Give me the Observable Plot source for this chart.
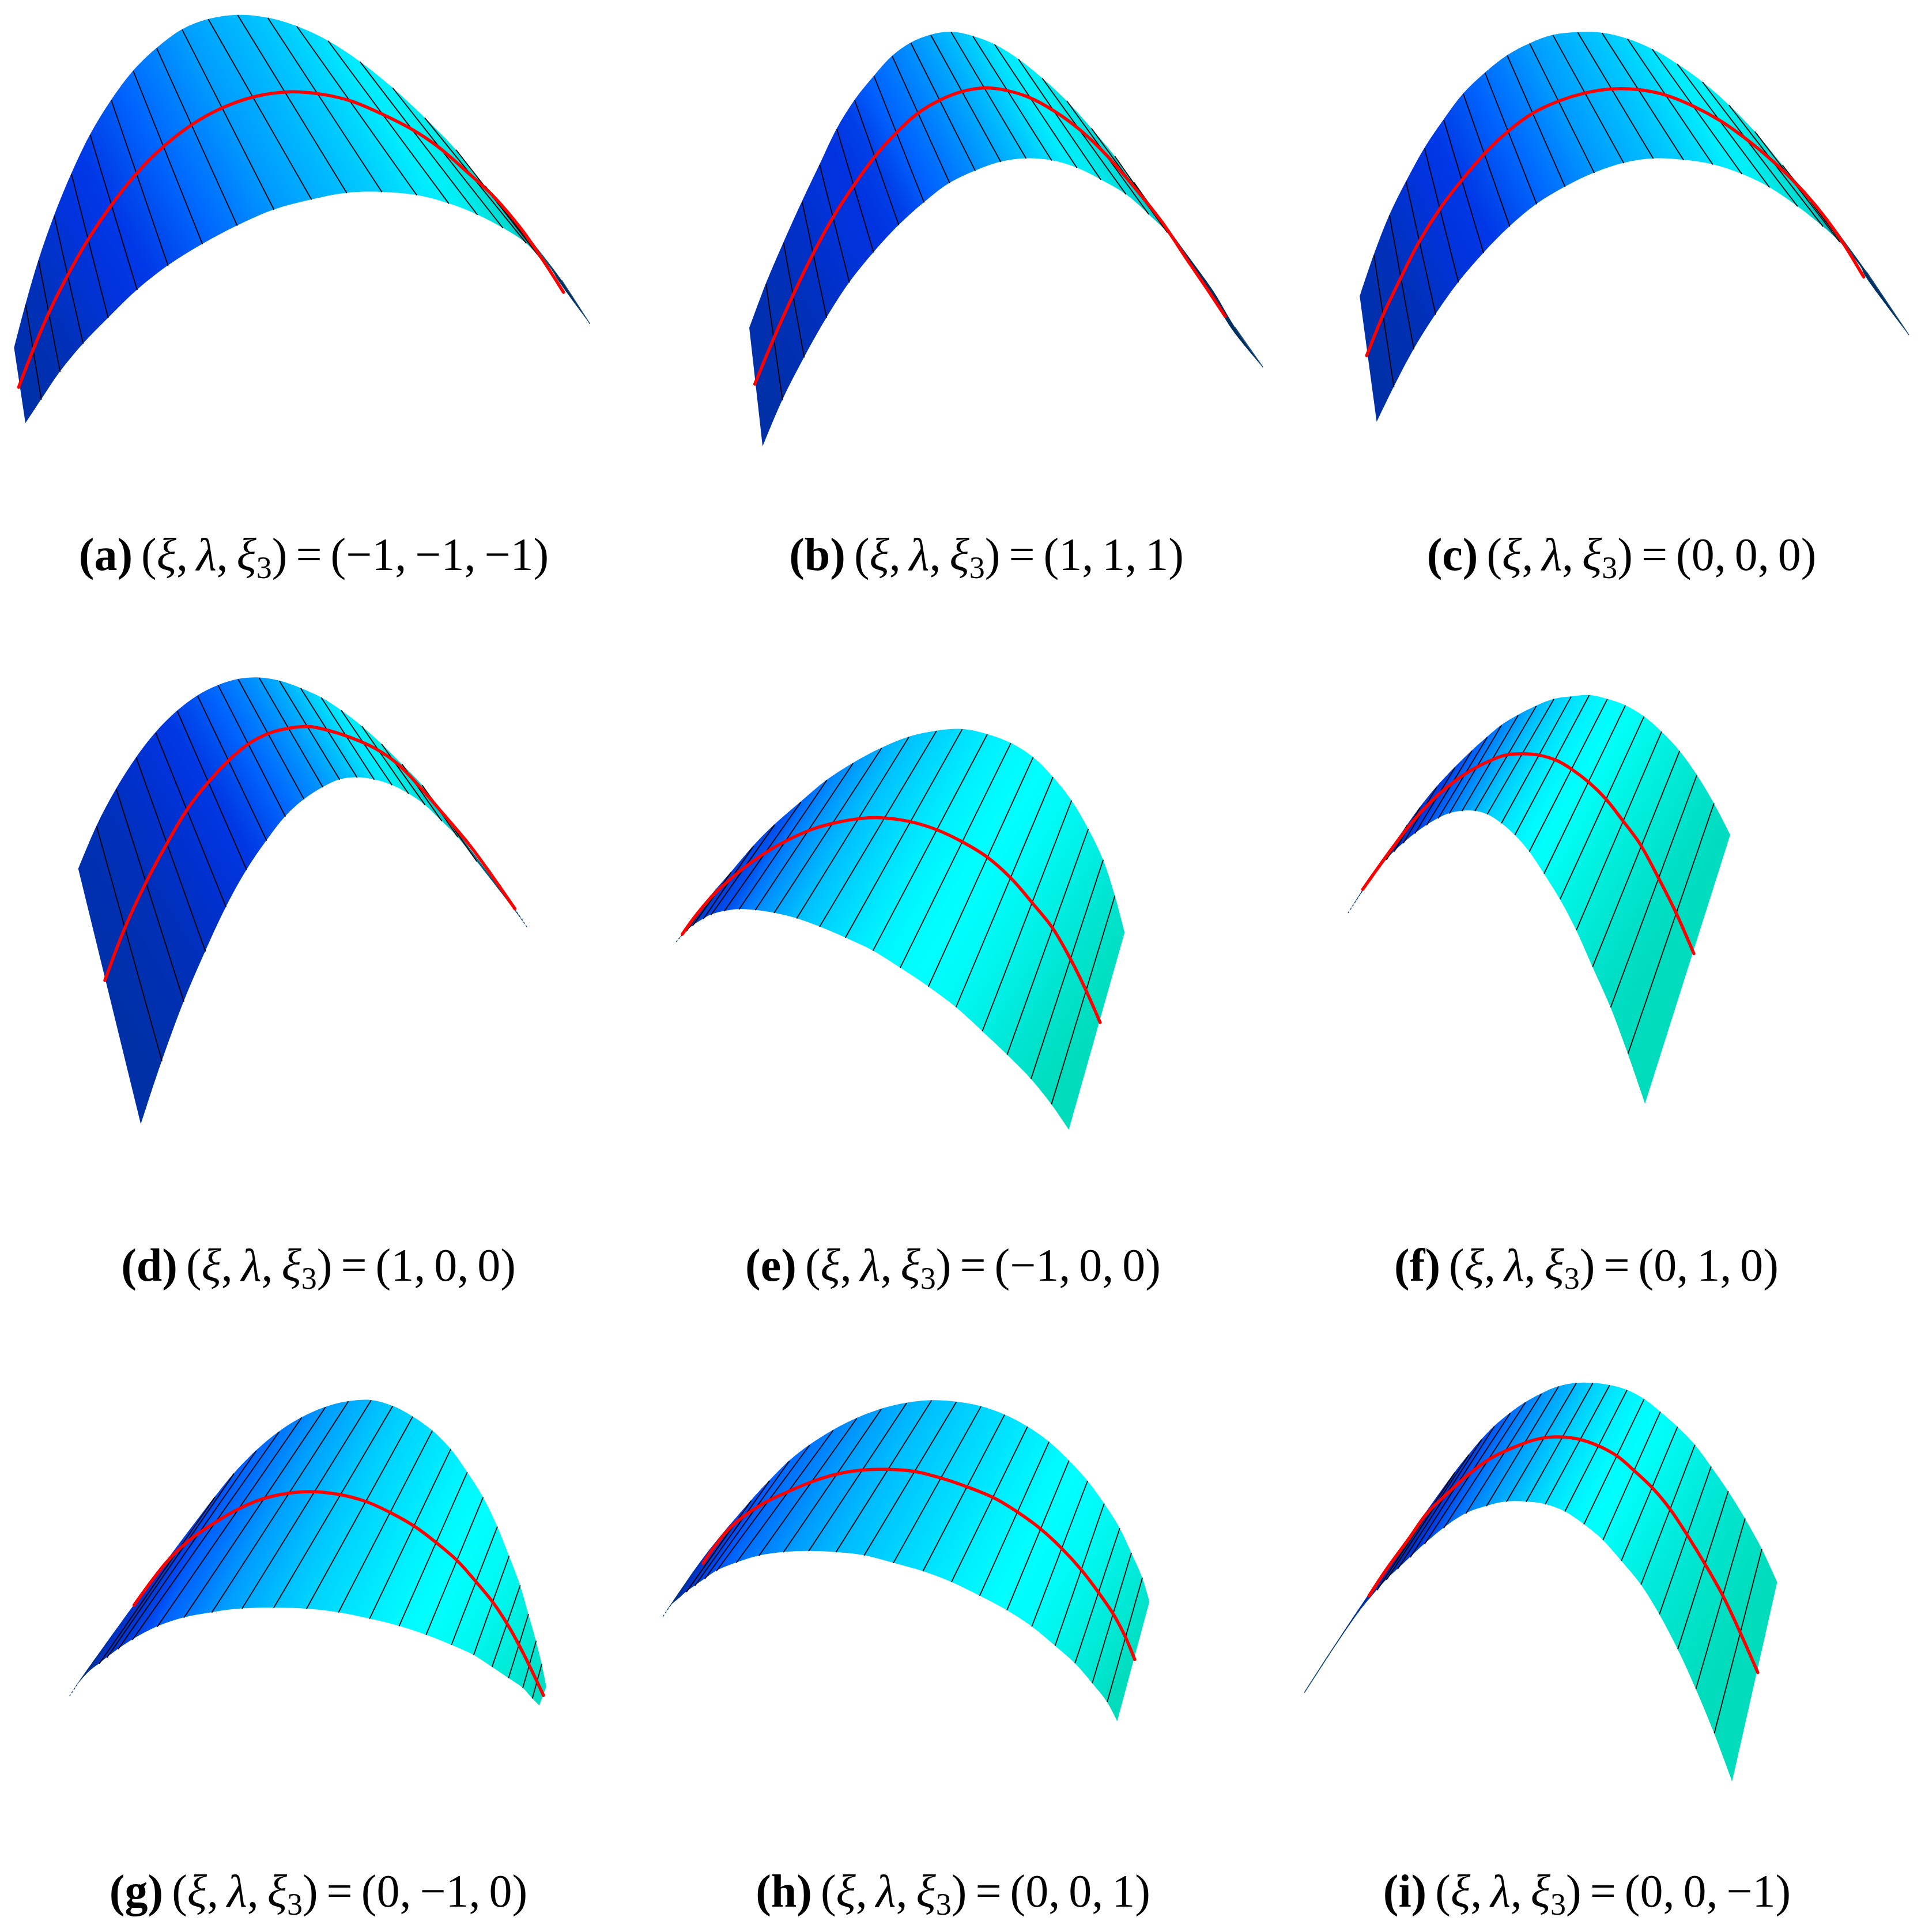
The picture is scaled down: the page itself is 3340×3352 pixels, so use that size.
<!DOCTYPE html>
<html>
<head>
<meta charset="utf-8">
<script src="https://cdn.jsdelivr.net/npm/d3@7"></script>
<script src="https://cdn.jsdelivr.net/npm/@observablehq/plot@0.6"></script>
<style>
html,body{margin:0;padding:0;background:#fff}
svg{display:block}
</style>
</head>
<body>
<div id="chart"></div>
<script>
// Values. Each panel's samples are (top edge, bottom edge) pairs
// along the ruling lines, in the panel's reading grid of 1562 x 1568 units.
const WIDTH = 3340, HEIGHT = 3352, GRID_W = 1562, GRID_H = 1568;

const aWindow = [0, 0, 1060, 760];
const aTop = [[36,1245],[65,1090],[98,932],[138,772],[182,622],[230,482],[284,358],[340,253],[400,172],[465,105],[532,68],[607,53],[684,63],[758,93],[838,145],[920,220],[1003,313],[1085,420],[1165,535],[1240,665],[1340,830],[1436,1003],[1507,1157]];
const aBottom = [[65,1515],[105,1430],[153,1330],[212,1230],[276,1138],[350,1037],[429,950],[517,873],[606,807],[700,750],[796,714],[886,690],[976,687],[1065,698],[1147,728],[1220,768],[1285,815],[1345,870],[1385,930],[1395,940],[1410,965],[1429,1008],[1507,1157]];
const aRed = [[47,1385],[80,1265],[122,1125],[172,985],[225,855],[283,735],[347,622],[416,525],[490,445],[568,385],[650,345],[735,328],[815,335],[895,360],[980,410],[1050,460],[1120,525],[1190,610],[1260,700],[1330,815],[1385,925],[1440,1045]];
const aColors = ["#0030a8","#0030b0","#0030b8","#0033cc","#0033dd","#0038e8","#0050f0","#0068ff","#0080ff","#009aff","#00acff","#00bcff","#00ccff","#00dcff","#00ecff","#00f0f8","#00e8e8","#00e0d8","#00d8d0","#00b0b8","#008090","#003060","#003060"];

const bWindow = [1280, 0, 950, 800];
const bTop = [[33,1115],[80,965],[130,825],[183,685],[233,560],[282,438],[333,340],[388,258],[440,190],[493,145],[550,118],[608,108],[670,122],[732,150],[800,200],[868,265],[938,342],[1008,435],[1075,530],[1130,620],[1298,892],[1358,992],[1418,1112],[1497,1247]];
const bBottom = [[71,1518],[127,1360],[189,1215],[253,1080],[318,960],[387,858],[459,765],[531,688],[604,622],[677,580],[750,550],[822,538],[895,545],[967,570],[1035,610],[1107,660],[1172,728],[1225,790],[1262,850],[1285,885],[1290,895],[1350,1001],[1410,1120],[1497,1247]];
const bRed = [[48,1305],[100,1155],[158,1000],[215,860],[270,740],[330,630],[390,532],[450,452],[512,385],[575,340],[640,310],[705,298],[760,305],[830,330],[900,375],[975,440],[1050,525],[1130,635],[1210,755],[1280,880],[1340,985],[1390,1075]];
const bColors = ["#0030a8","#0030b0","#0030b8","#0030c8","#0033d8","#0033e0","#0040e8","#0060ff","#0078ff","#0090ff","#00a8ff","#00c0ff","#00d8ff","#00ecff","#00ecf4","#00e4e4","#00dcdc","#00d4d0","#00c8c8","#00a8b0","#003060","#003060","#003060","#003060"];

const cWindow = [2340, 0, 1000, 760];
const cTop = [[30,1060],[68,912],[110,770],[155,650],[205,530],[257,428],[310,335],[369,260],[429,198],[490,155],[553,125],[620,115],[686,117],[755,138],[822,175],[890,228],[958,292],[1030,375],[1100,470],[1175,590],[1290,770],[1403,972],[1517,1197]];
const cBottom = [[76,1510],[122,1385],[176,1250],[235,1125],[297,1010],[365,905],[436,810],[509,730],[586,668],[665,618],[745,583],[825,567],[907,572],[986,588],[1065,622],[1140,670],[1216,738],[1285,810],[1330,865],[1370,925],[1390,960],[1397,982],[1517,1197]];
const cRed = [[48,1272],[92,1128],[140,995],[190,865],[247,745],[305,645],[368,548],[430,470],[497,405],[570,360],[640,332],[715,317],[785,320],[860,340],[935,380],[1005,430],[1070,490],[1135,560],[1200,640],[1265,735],[1325,840],[1395,990]];
const cColors = ["#0030a8","#0030b0","#0030b8","#0033cc","#0033dd","#0038e8","#0050f0","#0068ff","#0080ff","#009aff","#00acff","#00bcff","#00ccff","#00dcff","#00ecff","#00f0f8","#00e8e8","#00e0d8","#00d8d0","#00b0b8","#006a80","#003060","#003060"];

const dWindow = [100, 1150, 860, 830];
const dTop = [[65,675],[122,535],[184,413],[247,310],[308,228],[376,157],[440,107],[505,73],[568,53],[634,48],[698,58],[765,82],[830,113],[893,155],[958,207],[1020,265],[1085,332],[1148,400],[1210,485],[1440,806],[1478,865]];
const dBottom = [[262,1512],[328,1305],[397,1110],[465,945],[530,800],[595,678],[658,582],[717,503],[776,447],[835,407],[888,382],[943,375],[997,382],[1053,400],[1105,428],[1157,465],[1210,518],[1260,570],[1320,650],[1438,808],[1478,865]];
const dRed = [[148,1040],[210,870],[277,720],[343,592],[407,480],[470,395],[537,320],[600,265],[665,230],[730,213],[790,208],[850,220],[925,245],[1000,280],[1070,330],[1140,405],[1215,495],[1300,600],[1370,700],[1440,805]];
const dColors = ["#0030a8","#0030b0","#0030b8","#0030c8","#0033d8","#0038e4","#0050f0","#0068ff","#0080ff","#0098ff","#00b0ff","#00c8ff","#00e0ff","#00ecff","#00ece8","#00e4e0","#00d8d4","#00c8c8","#0090a0","#003060","#003060"];

const eWindow = [1150, 1240, 840, 750];
const eTop = [[43,822],[60,800],[155,655],[220,570],[292,475],[360,398],[445,315],[528,237],[613,175],[705,120],[793,80],[882,58],[965,52],[1046,70],[1122,102],[1194,153],[1258,225],[1318,310],[1372,413],[1420,525],[1458,655],[1490,790]];
const eBottom = [[43,822],[62,802],[75,785],[95,765],[130,740],[155,725],[197,712],[245,705],[297,708],[358,718],[431,738],[505,768],[588,808],[677,855],[765,917],[856,985],[945,1060],[1030,1147],[1110,1232],[1187,1320],[1253,1412],[1310,1505]];
const eRed = [[62,795],[105,728],[160,655],[235,578],[320,507],[400,455],[480,415],[560,390],[640,375],[710,373],[790,385],[880,415],[965,460],[1045,515],[1125,595],[1190,680],[1255,770],[1312,880],[1365,1000],[1410,1115]];
const eColors = ["#003060","#003070","#0038c0","#0040d0","#0040e0","#0048e8","#0055f0","#0075ff","#0090ff","#00a8ff","#00c0ff","#00d0ff","#00e0ff","#00f0ff","#00faff","#00ffff","#00fbf8","#00f4ec","#00ece0","#00e4d0","#00e0c4","#00dcbc"];

const fWindow = [2320, 1190, 700, 750];
const fTop = [[42,822],[100,738],[270,505],[320,440],[385,365],[455,295],[520,235],[580,185],[635,142],[700,105],[770,72],[838,47],[905,38],[975,33],[1045,47],[1115,70],[1187,110],[1255,165],[1325,235],[1392,322],[1458,425],[1522,540]];
const fBottom = [[42,822],[102,740],[190,630],[220,600],[255,570],[300,535],[345,505],[390,480],[433,462],[482,453],[532,453],[580,465],[635,497],[687,540],[743,600],[800,680],[862,773],[925,885],[988,1018],[1058,1165],[1125,1333],[1192,1515]];
const fRed = [[98,737],[150,668],[210,590],[275,510],[340,440],[420,370],[500,315],[580,275],[650,250],[720,245],[780,250],[850,270],[905,300],[975,350],[1040,410],[1105,488],[1170,570],[1240,690],[1310,820],[1380,970]];
const fColors = ["#003060","#003070","#0030b0","#0030c0","#0038d8","#0040e8","#0058f0","#0068ff","#0080ff","#0098ff","#00b4ff","#00ccff","#00e0ff","#00f0ff","#00fcff","#00fff8","#00f8ec","#00f0e0","#00e8d4","#00e0c8","#00dcc0","#00dcbc"];

const gWindow = [100, 2410, 860, 570];
const gTop = [[37,1463],[65,1400],[240,1030],[495,514],[555,402],[625,293],[697,203],[768,135],[843,85],[915,58],[987,52],[1055,80],[1118,130],[1180,197],[1238,285],[1290,395],[1340,515],[1385,655],[1422,795],[1457,935],[1483,1072],[1507,1200],[1525,1310],[1540,1420]];
const gBottom = [[37,1463],[66,1402],[100,1345],[130,1310],[155,1280],[190,1240],[235,1195],[313,1133],[397,1090],[485,1065],[580,1047],[680,1043],[783,1048],[884,1065],[982,1095],[1075,1130],[1160,1172],[1240,1220],[1310,1268],[1368,1325],[1420,1378],[1465,1425],[1495,1475],[1518,1510]];
const gRed = [[240,1030],[290,925],[345,820],[410,725],[480,650],[560,578],[640,525],[720,497],[790,488],[880,500],[970,535],[1050,590],[1125,655],[1195,735],[1260,820],[1310,905],[1370,1015],[1420,1130],[1470,1270],[1530,1460]];
const gColors = ["#003060","#003070","#0030c0","#0038d8","#0040e0","#0048f0","#0060ff","#0070ff","#0088ff","#00a0ff","#00b0ff","#00c4ff","#00d4ff","#00e0ff","#00ecff","#00f8ff","#00ffff","#00fcf8","#00f8f0","#00f0e4","#00ecd8","#00e4d0","#00e0c8","#00dcc0"];

const hWindow = [1130, 2400, 900, 540];
const hTop = [[35,1172],[60,1110],[165,860],[300,590],[355,490],[415,390],[476,310],[547,235],[618,175],[692,128],[768,98],[843,85],[918,92],[992,115],[1063,157],[1132,217],[1197,293],[1257,388],[1313,490],[1363,604],[1410,728],[1445,852],[1478,978],[1500,1100]];
const hBottom = [[35,1172],[62,1112],[85,1080],[105,1050],[130,1020],[160,985],[195,945],[255,903],[323,868],[397,850],[473,844],[555,850],[640,866],[728,904],[817,946],[903,1000],[988,1069],[1070,1142],[1145,1224],[1215,1321],[1275,1409],[1327,1509],[1372,1604],[1403,1702]];
const hRed = [[155,905],[190,820],[240,720],[330,610],[410,545],[490,490],[560,455],[640,435],[710,432],[790,442],[870,475],[950,520],[1030,575],[1100,645],[1170,730],[1235,830],[1295,940],[1345,1050],[1390,1160],[1425,1270],[1455,1390]];
const hColors = ["#003060","#003070","#0030c0","#0040e0","#0048f0","#0058ff","#0068ff","#0078ff","#0088ff","#009cff","#00acff","#00bcff","#00c8ff","#00d4ff","#00e0ff","#00ecff","#00f6ff","#00ffff","#00fcfc","#00f8f0","#00f0e4","#00ead8","#00e4cc","#00dcbc"];

const iWindow = [2240, 2380, 860, 720];
const iTop = [[42,1210],[120,1065],[245,840],[515,380],[560,312],[600,255],[640,205],[690,155],[738,115],[788,82],[842,55],[898,42],[950,42],[1003,50],[1058,68],[1112,102],[1163,150],[1217,207],[1272,275],[1323,357],[1377,450],[1430,553],[1483,668],[1532,795]];
const iBottom = [[42,1210],[122,1067],[215,905],[270,825],[300,785],[335,745],[375,700],[420,650],[480,590],[550,535],[615,507],[678,490],[740,490],[800,500],[862,527],[922,575],[982,635],[1040,713],[1102,803],[1160,915],[1218,1047],[1275,1197],[1333,1365],[1390,1548]];
const iRed = [[245,845],[300,745],[370,630],[430,530],[500,450],[560,385],[630,325],[700,285],[770,255],[830,245],[900,252],[970,280],[1030,320],[1080,372],[1140,440],[1195,520],[1250,620],[1305,728],[1360,845],[1415,985],[1470,1135]];
const iColors = ["#003060","#003070","#0030a8","#0030b8","#0030c8","#0038d8","#0040e8","#0058f0","#0070ff","#0088ff","#00a0ff","#00b4ff","#00ccff","#00e0ff","#00f0ff","#00fcff","#00fffb","#00f8f0","#00f0e4","#00e8d8","#00e4cc","#00e0c4","#00dcbc","#00dcbc"];

// number of leading / trailing samples without a ruling line
const panelNames = ["a","b","c","d","e","f","g","h","i"];
const windows = [aWindow,bWindow,cWindow,dWindow,eWindow,fWindow,gWindow,hWindow,iWindow];
const tops = [aTop,bTop,cTop,dTop,eTop,fTop,gTop,hTop,iTop];
const bottoms = [aBottom,bBottom,cBottom,dBottom,eBottom,fBottom,gBottom,hBottom,iBottom];
const reds = [aRed,bRed,cRed,dRed,eRed,fRed,gRed,hRed,iRed];
const colors = [aColors,bColors,cColors,dColors,eColors,fColors,gColors,hColors,iColors];
const skipStart = [1,1,1,1,2,2,3,3,3];
const skipEnd = [3,4,3,2,1,1,1,1,1];
const dottedTail = [false,false,false,true,true,true,true,true,false];

const captionValues = ["−1, −1, −1","1, 1, 1","0, 0, 0","1, 0, 0","−1, 0, 0","0, 1, 0","0, −1, 0","0, 0, 1","0, 0, −1"];
const captionX = [544,1711,2813,552,1653,2752,552,1653,2753];
const captionY = [988,988,988,2221,2221,2221,3307,3307,3307];

const panels = panelNames.map((name, p) => {
  const [x0, y0, w, h] = windows[p];
  const X = (u) => x0 + u * w / GRID_W, Y = (v) => y0 + v * h / GRID_H;
  const samples = tops[p].map((t, k) => ({
    x1: X(t[0]), y1: Y(t[1]),
    x2: X(bottoms[p][k][0]), y2: Y(bottoms[p][k][1]),
    color: colors[p][k],
    k
  }));
  return {
    name, samples,
    rulings: samples.slice(skipStart[p], samples.length - skipEnd[p]),
    red: reds[p].map(([u, v]) => ({x: X(u), y: Y(v)})),
    tail: p < 4 ? samples.slice(-2) : samples.slice(0, 2),
    dash: dottedTail[p] ? "2 5" : null
  };
});

function gradients(index, {x, y}) {
  const g = d3.create("svg:g");
  const defs = g.append("defs");
  for (const {name, samples, rulings} of panels) {
    const middle = rulings[rulings.length >> 1];
    const sx = x(middle.x2) - x(middle.x1), sy = y(middle.y2) - y(middle.y1);
    const len = Math.hypot(sx, sy);
    let nx = sy / len, ny = -sx / len;
    const mids = samples.map((s) => [(x(s.x1) + x(s.x2)) / 2, (y(s.y1) + y(s.y2)) / 2]);
    if ((mids[mids.length - 1][0] - mids[0][0]) * nx + (mids[mids.length - 1][1] - mids[0][1]) * ny < 0) { nx = -nx; ny = -ny; }
    const proj = mids.map(([a, b]) => (a - mids[0][0]) * nx + (b - mids[0][1]) * ny);
    const lo = d3.min(proj), hi = d3.max(proj);
    const grad = defs.append("linearGradient")
      .attr("id", `surface-${name}`)
      .attr("gradientUnits", "userSpaceOnUse")
      .attr("x1", mids[0][0] + nx * lo).attr("y1", mids[0][1] + ny * lo)
      .attr("x2", mids[0][0] + nx * hi).attr("y2", mids[0][1] + ny * hi);
    let running = 0;
    samples.forEach((s, k) => {
      running = Math.max(running, (proj[k] - lo) / (hi - lo));
      grad.append("stop").attr("offset", running).attr("stop-color", s.color);
    });
  }
  return g.node();
}

const captions = panelNames.map((n, k) => ({
  x: captionX[k], y: captionY[k], letter: n, values: captionValues[k],
  label: `(${n}) (ξ, λ, ξ3) = (${captionValues[k]})`
}));

const chart = Plot.plot({
  width: WIDTH, height: HEIGHT,
  marginTop: 0, marginRight: 0, marginBottom: 0, marginLeft: 0,
  x: {axis: null, domain: [0, WIDTH], range: [0, WIDTH]},
  y: {axis: null, domain: [0, HEIGHT], range: [0, HEIGHT]},
  style: {background: "#fff"},
  marks: [
    gradients,
    ...panels.flatMap(({name, samples, rulings, red, tail, dash}) => [
      Plot.area(samples, {x1: "x1", y1: "y1", x2: "x2", y2: "y2", fill: `url(#surface-${name})`, curve: "catmull-rom"}),
      Plot.line(tail, {x: "x1", y: "y1", stroke: "#1d4f80", strokeWidth: 1.5, strokeDasharray: dash}),
      Plot.link(rulings, {x1: "x1", y1: "y1", x2: "x2", y2: "y2", stroke: "#000", strokeWidth: 1.8}),
      Plot.line(red, {x: "x", y: "y", stroke: "#ff0000", strokeWidth: 5.5, curve: "catmull-rom"})
    ]),
    Plot.text(captions, {
      x: "x", y: "y", text: "label", textAnchor: "middle", lineAnchor: "bottom",
      fontFamily: "Liberation Serif", fontSize: 80, fill: "#000", className: "caption"
    })
  ]
});

// Set the caption's bold letter, italic symbols and subscript as tspans of the real text.
d3.select(chart).selectAll("g.caption text").each(function (d, k) {
  const c = captions[k];
  const t = d3.select(this).text(null).attr("word-spacing", -5);
  const piece = (s, attrs = {}) => {
    const sp = t.append("tspan").text(s);
    for (const key in attrs) sp.attr(key, attrs[key]);
    return sp;
  };
  piece(`(${c.letter})`, {"font-weight": "bold"});
  piece(" (");
  piece("ξ", {"font-style": "italic"});
  piece(", ");
  piece("λ", {"font-style": "italic"});
  piece(", ");
  piece("ξ", {"font-style": "italic"});
  piece("3", {"font-size": 54, "dy": 14});
  piece(") = (", {"dy": -14});
  piece(c.values + ")");
});

document.getElementById("chart").appendChild(chart);
</script>
</body>
</html>
